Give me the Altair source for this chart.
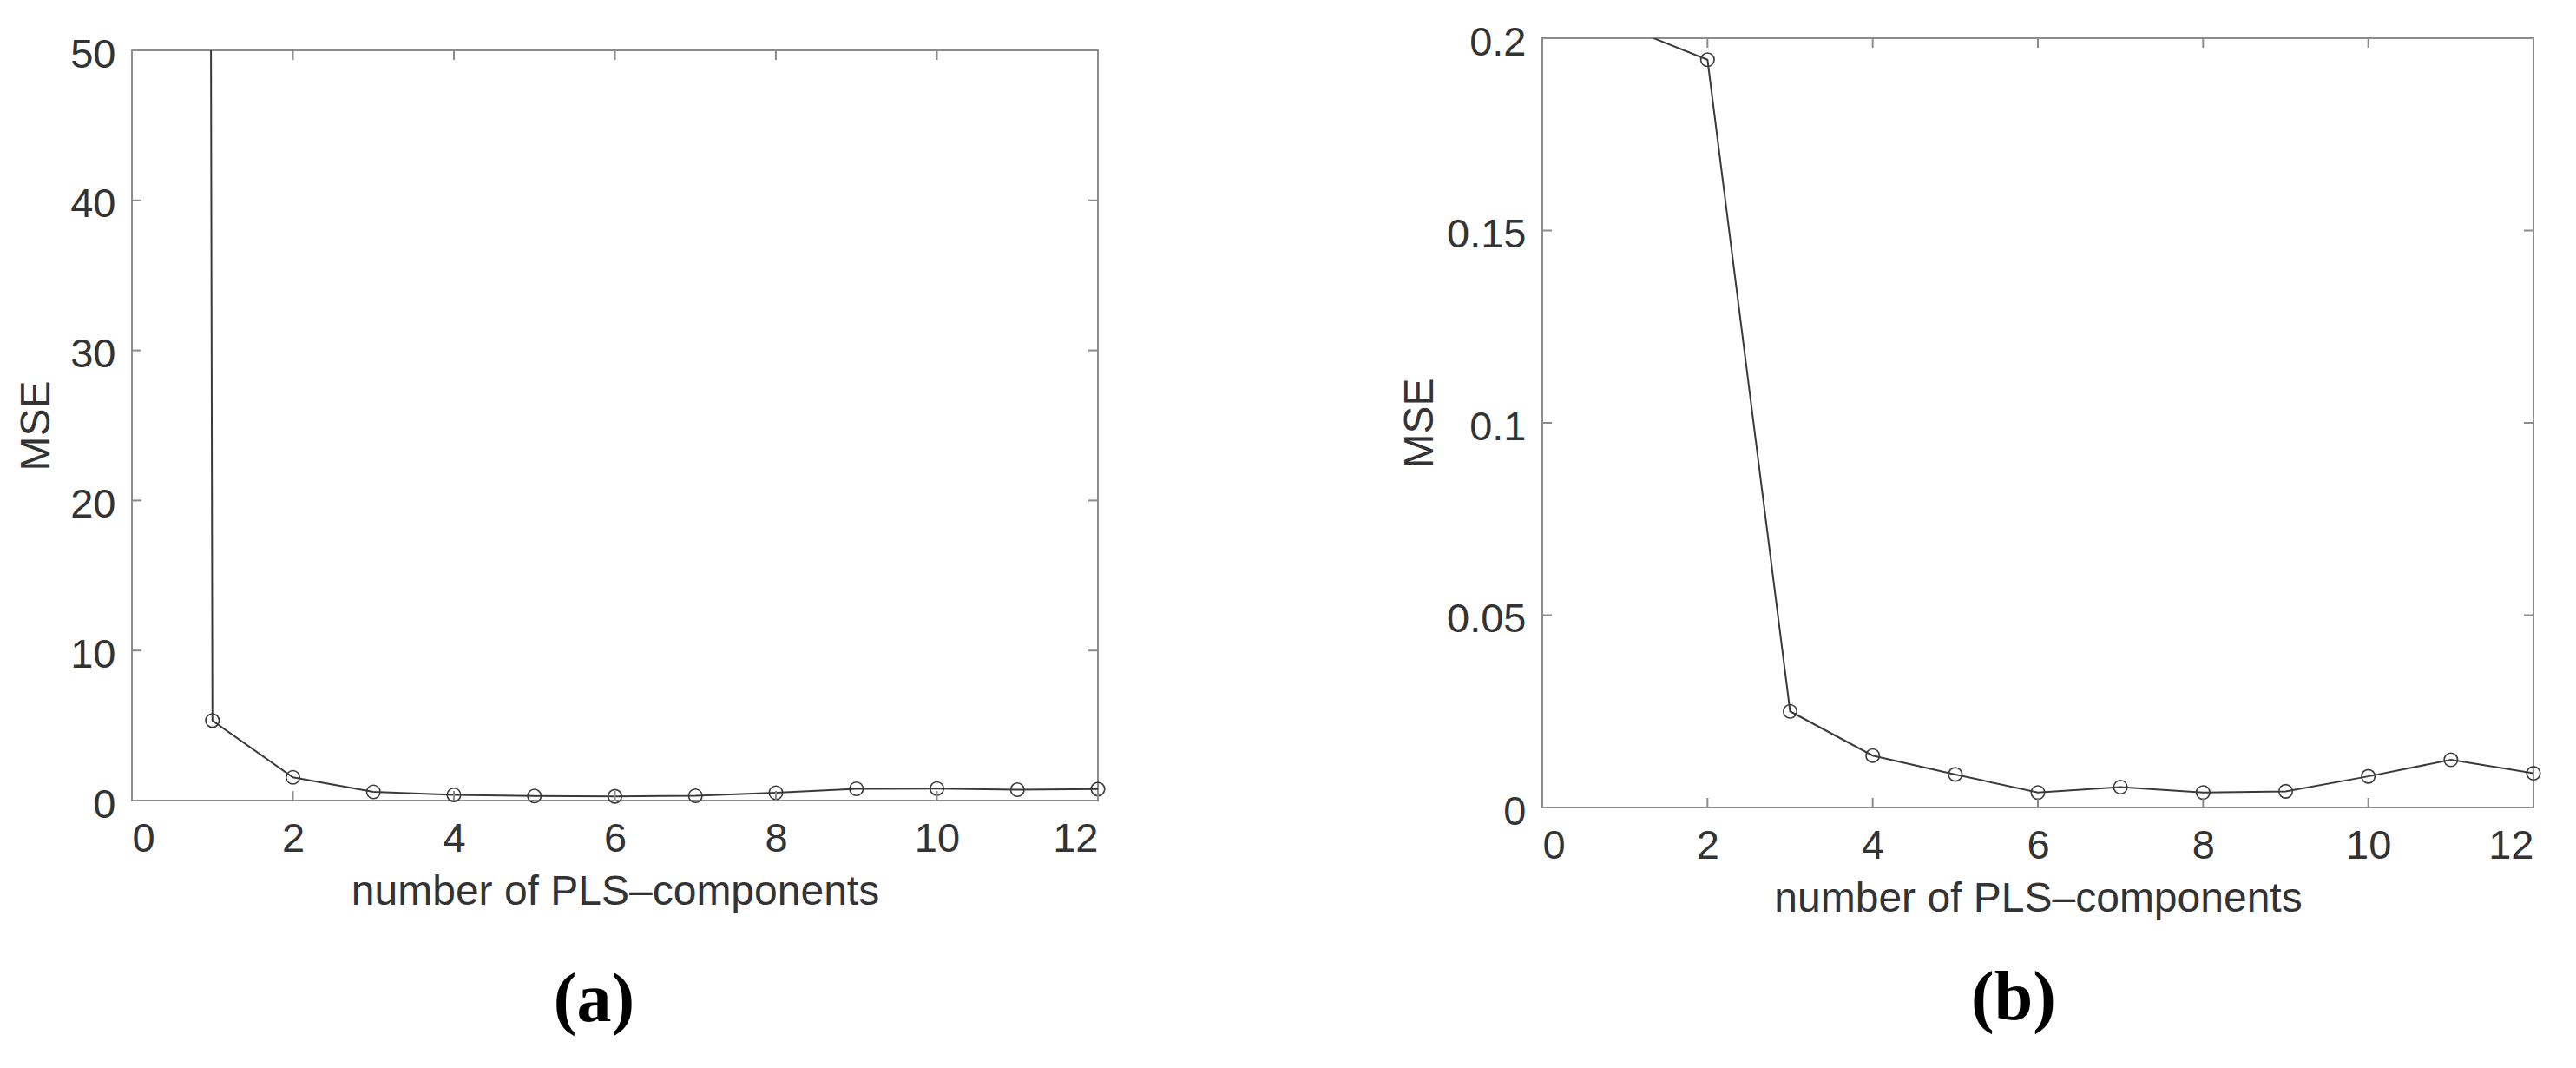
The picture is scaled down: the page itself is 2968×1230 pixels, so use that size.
import altair as alt
import pandas as pd

# ---- data ----
components = [0, 1, 2, 3, 4, 5, 6, 7, 8, 9, 10, 11, 12]
mse_a = [2500, 5.33, 1.55, 0.58, 0.38, 0.30, 0.28, 0.32, 0.52, 0.78, 0.80, 0.72, 0.76]
mse_b = [0.9, 0.203, 0.1944, 0.0250, 0.0135, 0.0086, 0.0039, 0.0053, 0.0039, 0.0042, 0.0081, 0.0124, 0.0089]
x_ticks = [0, 2, 4, 6, 8, 10, 12]
y_ticks_a = [0, 10, 20, 30, 40, 50]
y_ticks_b = [0, 0.05, 0.1, 0.15, 0.2]
captions = ["(a)", "(b)"]
x_title = "number of PLS\u2013components"
y_title = "MSE"

FONT = "Liberation Sans"
TXT = "#333333"
FRAME = "#8c8c8c"
LINE = "#3a3a3a"
TICK = 11


def panel(mse, yticks, ymax, w, h, caption, cap_offset, cap_dx, ytitle_pad):
    df = pd.DataFrame({"x": components, "y": mse})
    xs = alt.Scale(domain=[0, 12], nice=False, zero=False)
    ys = alt.Scale(domain=[0, ymax], nice=False, zero=False)
    xaxis = alt.Axis(values=x_ticks, title=x_title, ticks=False, tickSize=0, domain=False,
                     grid=False, labelPadding=21, titlePadding=14, format="~r",
                     labelFont=FONT, titleFont=FONT, labelFontSize=47, titleFontSize=48,
                     labelColor=TXT, titleColor=TXT, titleFontWeight="normal")
    yaxis = alt.Axis(values=yticks, title=y_title, ticks=False, tickSize=0, domain=False,
                     grid=False, labelPadding=19, titlePadding=ytitle_pad, format="~r",
                     labelOffset=5,
                     labelFont=FONT, titleFont=FONT, labelFontSize=47, titleFontSize=48,
                     labelColor=TXT, titleColor=TXT, titleFontWeight="normal")
    base = alt.Chart(df)
    line = base.mark_line(color=LINE, strokeWidth=2, clip=True).encode(
        x=alt.X("x:Q", scale=xs, axis=xaxis),
        y=alt.Y("y:Q", scale=ys, axis=yaxis),
    )
    pts = base.transform_filter(alt.datum.y <= ymax).mark_point(
        shape="circle", filled=False, size=240, color=LINE, strokeWidth=1.6, opacity=1
    ).encode(
        x=alt.X("x:Q", scale=xs, axis=xaxis),
        y=alt.Y("y:Q", scale=ys, axis=yaxis),
    )
    tx = pd.DataFrame({"x": x_ticks})
    ty = pd.DataFrame({"y": yticks})
    bottom = alt.Chart(tx).mark_rule(color=FRAME, strokeWidth=2).encode(
        x=alt.X("x:Q", scale=xs, axis=xaxis), y=alt.value(h), y2=alt.value(h - TICK))
    top = alt.Chart(tx).mark_rule(color=FRAME, strokeWidth=2).encode(
        x=alt.X("x:Q", scale=xs, axis=xaxis), y=alt.value(0), y2=alt.value(TICK))
    left = alt.Chart(ty).mark_rule(color=FRAME, strokeWidth=2).encode(
        y=alt.Y("y:Q", scale=ys, axis=yaxis), x=alt.value(0), x2=alt.value(TICK))
    right = alt.Chart(ty).mark_rule(color=FRAME, strokeWidth=2).encode(
        y=alt.Y("y:Q", scale=ys, axis=yaxis), x=alt.value(w), x2=alt.value(w - TICK))
    return alt.layer(line, pts, bottom, top, left, right).properties(
        width=w, height=h,
        title=alt.TitleParams(caption, orient="bottom", offset=cap_offset, dx=cap_dx,
                              frame="group", anchor="middle", font="Liberation Serif",
                              fontSize=80, fontWeight="bold", color="black"),
    )


pa = panel(mse_a, y_ticks_a, 50, 1113, 864, captions[0], 62, -24, 14)
pb = panel(mse_b, y_ticks_b, 0.2, 1142, 886, captions[1], 52, -28, 6)

spacer = alt.Chart(pd.DataFrame({"s": [0]})).mark_point(opacity=0, size=1).encode(
    x=alt.X("s:Q", axis=None), y=alt.Y("s:Q", axis=None)
).properties(width=10, height=14, view=alt.ViewBackground(stroke="transparent"))

chart = alt.hconcat(
    alt.vconcat(spacer, pa, spacing=0, bounds="flush"), pb, spacing=1625, bounds="flush"
).properties(
    padding={"left": 9, "top": 16, "right": 5, "bottom": 5},
    background="white",
).configure_view(
    stroke=FRAME, strokeWidth=2
)

chart.save("out.html", embed_options={"renderer": "svg", "actions": False})
